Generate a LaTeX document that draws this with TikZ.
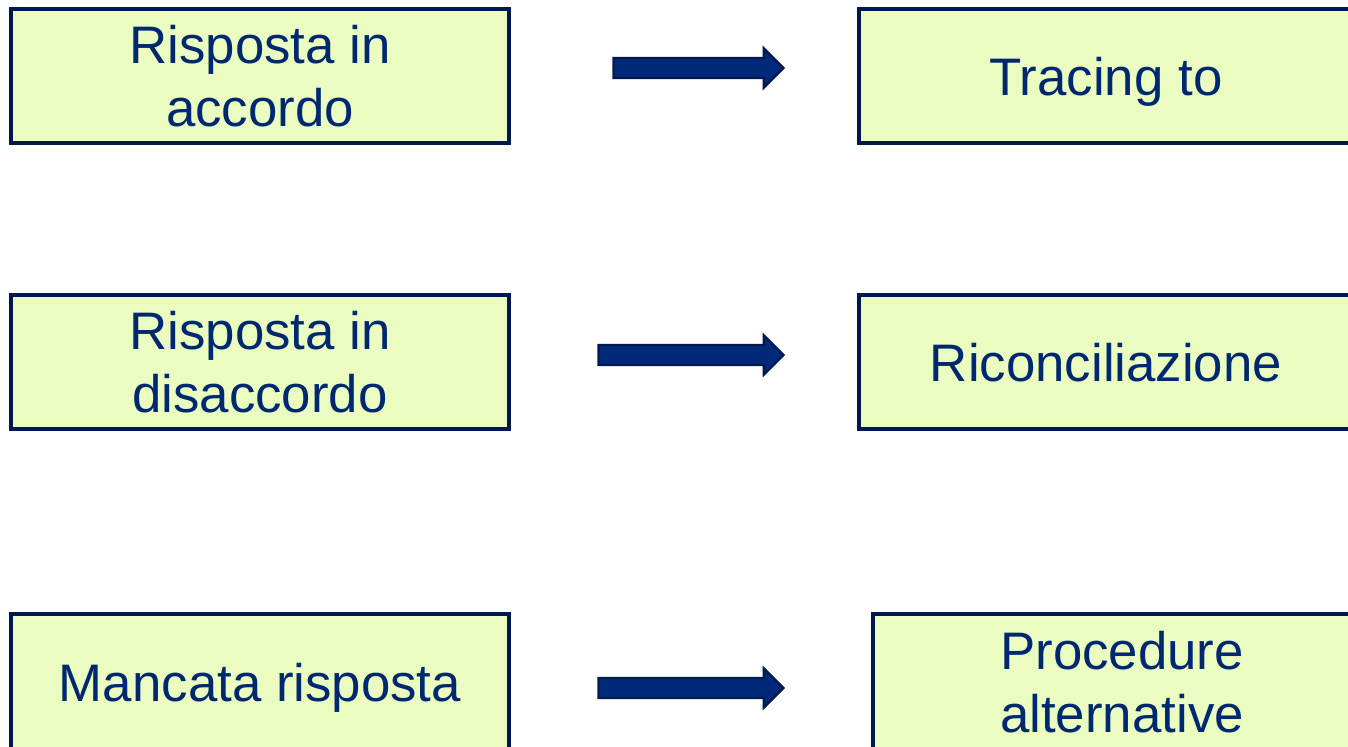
\documentclass[tikz,border=0pt]{standalone}
\usepackage{fontspec}
\setmainfont{Liberation Sans}
\usetikzlibrary{shapes.arrows}

\definecolor{boxfill}{HTML}{EBFCC0}
\definecolor{boxline}{HTML}{001850}
\definecolor{txtblue}{HTML}{002870}
\definecolor{arrfill}{HTML}{00297A}
\definecolor{arrline}{HTML}{001A4F}

\tikzset{
  stepbox/.style={draw=boxline, line width=2pt, fill=boxfill, text=txtblue,
    minimum height=67pt, align=center, inner sep=0pt,
    font=\fontsize{26.4}{31.5}\selectfont},
  blockarrow/.style={single arrow, draw=arrline, fill=arrfill, line width=1.2pt,
    inner xsep=0pt, inner ysep=4.4pt, single arrow head extend=4.8pt,
    single arrow head indent=0pt, single arrow tip angle=90}
}

\begin{document}
\begin{tikzpicture}[x=0.5pt, y=-0.5pt]

\path[use as bounding box, clip] (0,0) rectangle (1348,747);

%% left boxes
\node[stepbox, minimum width=249pt] (accordo) at (260,76) {Risposta in\\accordo};
\node[stepbox, minimum width=249pt] (disaccordo) at (260,362.5) {Risposta in\\disaccordo};
\node[stepbox, minimum width=249pt, minimum height=68pt, text depth=0pt] (mancata) at (260,682) {Mancata risposta};

%% right boxes
\node[stepbox, minimum width=247pt, text depth=0pt] (tracing) at (1106,76) {Tracing to};
\node[stepbox, minimum width=247pt] (riconc) at (1106,362.5) {Riconciliazione};
\node[stepbox, minimum width=249pt, minimum height=68pt] (proced) at (1122,682) {Procedure\\alternative};

%%% arrows
\node[blockarrow, minimum height=85pt] (arr1) at (693.5,68) {};
\node[blockarrow, minimum height=92.5pt] (arr2) at (686,355) {};
\node[blockarrow, minimum height=92.5pt] (arr3) at (686,688) {};

\end{tikzpicture}
\end{document}
